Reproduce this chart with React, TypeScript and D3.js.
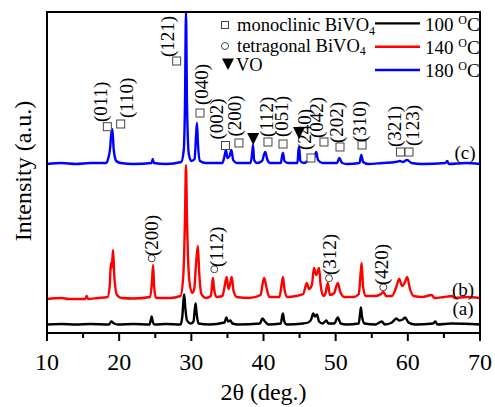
import React from 'react';
import * as d3 from 'd3';

const W = 495;
const H = 407;
const PLOT = { left: 47, right: 480, top: 12, bottom: 333 };

// axis
const xDomain: [number, number] = [10, 70];
const yDomain: [number, number] = [0, 321];
const xMajorTicks = [10, 20, 30, 40, 50, 60, 70];
const xMinorTicks = [15, 25, 35, 45, 55, 65];

// series meta
const seriesTemps = ['100', '140', '180'];
const seriesColors = ['#000000', '#ff0000', '#0000ff'];
const seriesOffsets = [8.5, 34, 169];
const seriesTags = ['(a)', '(b)', '(c)'];
const seriesTagTheta = [67.64, 67.64, 67.92];
const seriesTagI = [25, 44, 181];

// series values [2θ, intensity above own baseline]
const pattern100: [number, number][] = [
  [10, 0], [12, 0.5], [14, 0], [16, 0.5], [18.6, 0], [18.9, 3], [19.3, 1], [19.8, 0], [22, 0.5],
  [24.2, 0], [24.4, 5], [24.5, 8], [24.65, 3], [24.9, 0], [26.5, 0.5], [28.5, 0], [28.75, 8],
  [28.92, 25], [29.02, 30], [29.15, 18], [29.4, 4], [29.9, 1], [30.3, 3], [30.48, 15], [30.6, 21],
  [30.72, 12], [31.0, 1], [32.5, 0], [34.6, 2], [34.85, 7], [35.1, 3], [35.4, 4], [35.7, 1],
  [36.5, 0], [39.5, 1], [39.85, 6], [40.2, 3], [40.7, 0], [42.4, 1], [42.6, 9], [42.7, 11],
  [42.85, 4], [43.2, 0], [45.5, 1], [46.2, 2], [46.6, 5], [46.9, 11], [47.1, 8], [47.4, 10],
  [47.7, 3], [48.2, 1], [48.7, 4], [49.0, 1], [49.8, 1], [50.3, 7], [50.7, 1], [51.5, 0],
  [53.2, 1], [53.4, 12], [53.5, 17], [53.65, 8], [54, 1], [55.5, 0], [56.4, 3], [56.8, 0],
  [57.8, 2], [58.4, 6], [58.8, 4], [59.3, 5], [59.6, 7], [60.1, 2], [61, 0], [63.5, 1],
  [63.8, 3], [64.1, 0], [66, 1], [70, 0],
];

const pattern140: [number, number][] = [
  [10, 0], [12, 1], [13, 0], [15.3, 0], [15.5, 3], [15.7, 0], [17, 1], [18.4, 2], [18.7, 14],
  [18.85, 36], [18.97, 31], [19.15, 49], [19.35, 20], [19.7, 4], [20.3, 1], [22, 0.5], [24.3, 2],
  [24.55, 18], [24.7, 34], [24.85, 12], [25.1, 1], [27, 1], [28.5, 3], [28.9, 25], [29.12, 80],
  [29.26, 134], [29.4, 80], [29.7, 20], [30.1, 6], [30.4, 10], [30.65, 35], [30.9, 53],
  [31.1, 25], [31.4, 5], [32, 1], [32.7, 3], [32.9, 16], [33.0, 21], [33.15, 10], [33.5, 2],
  [34.3, 3], [34.6, 12], [34.9, 22], [35.15, 10], [35.4, 16], [35.6, 22], [35.85, 8], [36.3, 2],
  [38, 1], [39.6, 4], [39.9, 16], [40.1, 21], [40.4, 12], [40.8, 2], [42.2, 2], [42.5, 14],
  [42.7, 22], [42.9, 10], [43.3, 2], [44.5, 3], [45.5, 5], [46.0, 16], [46.3, 10], [46.7, 14],
  [47.0, 31], [47.3, 24], [47.7, 31], [47.9, 15], [48.3, 3], [48.6, 6], [48.9, 16], [49.2, 4],
  [49.8, 6], [50.1, 13], [50.3, 16], [50.6, 8], [51.2, 2], [52.5, 2], [53.2, 5], [53.45, 25],
  [53.6, 36], [53.8, 12], [54.2, 3], [55.5, 3], [56.3, 5], [56.6, 7], [57, 3], [57.8, 3],
  [58.4, 12], [58.8, 20], [59.2, 13], [59.6, 17], [59.9, 22], [60.3, 10], [60.8, 3], [62, 2],
  [63.3, 4], [63.7, 1], [65, 2], [66.1, 3], [66.5, 1], [68, 2], [70, 1],
];

const pattern180: [number, number][] = [
  [10, 0], [12, 1], [14, 0], [16, 1], [18.2, 1], [18.5, 6], [18.75, 16], [18.9, 30], [19.05, 35],
  [19.25, 14], [19.6, 3], [20.2, 1], [22, 0], [24.5, 1], [24.65, 5], [24.8, 1], [26.5, 0],
  [28.6, 2], [28.95, 14], [29.12, 60], [29.26, 152], [29.4, 60], [29.65, 10], [30.0, 3],
  [30.45, 5], [30.65, 28], [30.78, 41], [30.92, 20], [31.2, 3], [32, 1], [34.3, 1], [34.6, 8],
  [34.8, 14], [35.0, 6], [35.3, 8], [35.55, 14], [35.8, 4], [36.3, 1], [38.2, 1], [38.45, 12],
  [38.55, 19], [38.7, 4], [39.1, 1], [39.8, 3], [40.1, 10], [40.25, 12], [40.5, 5], [40.9, 1],
  [42.4, 1], [42.6, 9], [42.7, 11], [42.9, 3], [43.4, 1], [44.7, 1], [44.85, 14], [44.95, 17],
  [45.1, 3], [45.6, 1], [46.1, 3], [46.5, 6], [46.8, 4], [47.1, 8], [47.3, 12], [47.55, 4],
  [48.2, 1], [50.2, 1], [50.5, 6], [50.9, 1], [51.6, 0], [53.3, 1], [53.55, 9], [53.8, 2],
  [54.5, 0], [56.5, 1], [58.3, 2], [58.9, 3], [59.3, 2], [59.9, 4], [60.5, 1], [62, 0],
  [65.2, 1], [65.45, 3], [65.7, 0], [68, 1], [70, 0],
];

const patterns = [pattern100, pattern140, pattern180];

// monoclinic BiVO4 labels on (c): [label, marker 2θ, marker I, text 2θ, text-bottom I]
const monoLabels = ['(011)', '(110)', '(121)', '(040)', '(002)', '(200)', '(112)', '(051)', '(240)', '(042)', '(202)', '(310)', '(321)', '(123)'];
const monoMarkTheta = [18.36, 20.21, 27.97, 31.2, 34.73, 36.6, 40.62, 42.7, 46.58, 48.38, 50.6, 53.65, 58.98, 60.16];
const monoMarkI = [206.3, 209, 272, 220, 187.5, 190, 191, 189, 175, 191, 186, 188, 181, 181];
const monoTextTheta = [17.44, 21.04, 26.67, 31.44, 33.49, 36.05, 40.41, 42.56, 45.75, 47.41, 50.18, 53.37, 58.22, 60.71];
const monoTextI = [211, 215, 276, 228, 193.5, 196.5, 196, 196, 183, 195, 190, 191, 186, 187];

// tetragonal BiVO4 labels on (b)
const tetraLabels = ['(200)', '(112)', '(312)', '(420)'];
const tetraMarkTheta = [24.51, 33.18, 49.07, 56.6];
const tetraMarkI = [74.7, 63.7, 54.7, 45.7];
const tetraTextTheta = [24.51, 33.42, 49.21, 56.38];
const tetraTextI = [77, 66, 58, 48];

// VO markers on (c)
const voTheta = [38.57, 44.92];
const voI = [194, 200];

const FONT = '"Liberation Serif", "Times New Roman", serif';

export default function App() {
  const x = d3.scaleLinear().domain(xDomain).range([PLOT.left, PLOT.right]);
  const y = d3.scaleLinear().domain(yDomain).range([PLOT.bottom, PLOT.top]);

  const lines = patterns.map((p, i) =>
    d3
      .line<[number, number]>()
      .x((d) => x(d[0]))
      .y((d) => y(d[1] + seriesOffsets[i]))
      .curve(d3.curveMonotoneX)(p) as string
  );

  const sq = 8;
  const legendRowsRight = [30.7, 54, 77.3];

  return (
    <svg width={W} height={H} style={{ position: 'absolute', left: 0, top: 0, background: '#fff' }} fontFamily={FONT}>
      {/* series */}
      {lines.map((d, i) => (
        <path key={i} d={d} fill="none" stroke={seriesColors[i]} strokeWidth={2.4} strokeLinejoin="round" />
      ))}

      {/* frame */}
      <rect x={PLOT.left} y={PLOT.top} width={PLOT.right - PLOT.left} height={PLOT.bottom - PLOT.top} fill="none" stroke="#000" strokeWidth={2} />

      {/* x ticks */}
      {xMajorTicks.map((t) => (
        <g key={'M' + t}>
          <line x1={x(t)} x2={x(t)} y1={PLOT.bottom} y2={PLOT.bottom + 8} stroke="#000" strokeWidth={2} />
          <text x={x(t)} y={370} textAnchor="middle" fontSize={24}>{t}</text>
        </g>
      ))}
      {xMinorTicks.map((t) => (
        <line key={'m' + t} x1={x(t)} x2={x(t)} y1={PLOT.bottom} y2={PLOT.bottom + 5} stroke="#000" strokeWidth={2} />
      ))}

      {/* axis titles */}
      <text x={(PLOT.left + PLOT.right) / 2} y={400} textAnchor="middle" fontSize={24}>2θ (deg.)</text>
      <text transform={`translate(31,171) rotate(-90)`} textAnchor="middle" fontSize={24}>Intensity (a.u.)</text>

      {/* monoclinic labels */}
      {monoLabels.map((l, i) => (
        <g key={'mono' + i}>
          <rect x={x(monoMarkTheta[i]) - sq / 2} y={y(monoMarkI[i]) - sq / 2} width={sq} height={sq} fill="#fff" stroke="#444" strokeWidth={1} />
          <text transform={`translate(${x(monoTextTheta[i])},${y(monoTextI[i])}) rotate(-90)`} dominantBaseline="central" fontSize={19}>{l}</text>
        </g>
      ))}

      {/* VO markers */}
      {voTheta.map((t, i) => {
        const cx = x(t);
        const cy = y(voI[i]);
        return <path key={'vo' + i} d={`M${cx - 6},${cy - 6}L${cx + 6},${cy - 6}L${cx},${cy + 6}Z`} fill="#000" />;
      })}

      {/* tetragonal labels */}
      {tetraLabels.map((l, i) => (
        <g key={'tet' + i}>
          <circle cx={x(tetraMarkTheta[i])} cy={y(tetraMarkI[i])} r={3.5} fill="#fff" stroke="#444" strokeWidth={1} />
          <text transform={`translate(${x(tetraTextTheta[i])},${y(tetraTextI[i])}) rotate(-90)`} dominantBaseline="central" fontSize={19}>{l}</text>
        </g>
      ))}

      {/* sample tags */}
      {seriesTags.map((t, i) => (
        <text key={t} x={x(seriesTagTheta[i])} y={y(seriesTagI[i])} textAnchor="middle" dominantBaseline="central" fontSize={19}>{t}</text>
      ))}

      {/* legend left */}
      <rect x={225 - 3.5} y={25 - 3.5} width={7} height={7} fill="#fff" stroke="#444" strokeWidth={1} />
      <text x={237} y={30.7} fontSize={18.5}>monoclinic BiVO<tspan fontSize={12} dy={4}>4</tspan></text>
      <circle cx={225} cy={46} r={3.5} fill="#fff" stroke="#444" strokeWidth={1} />
      <text x={237} y={51.5} fontSize={18.5}>tetragonal BiVO<tspan fontSize={12} dy={3}>4</tspan></text>
      <path d={`M222,58.5L234,58.5L228,70Z`} fill="#000" />
      <text x={236} y={70.5} fontSize={18.5}>VO</text>

      {/* legend right */}
      {seriesTemps.map((t, i) => (
        <g key={'leg' + t}>
          <line x1={375} x2={420} y1={legendRowsRight[i] - 7.3} y2={legendRowsRight[i] - 7.3} stroke={seriesColors[i]} strokeWidth={2.4} />
          <text x={425} y={legendRowsRight[i]} fontSize={19}>
            {t + ' '}
            <tspan fontSize={12} dy={-7}>O</tspan>
            <tspan dy={7}>C</tspan>
          </text>
        </g>
      ))}
    </svg>
  );
}
